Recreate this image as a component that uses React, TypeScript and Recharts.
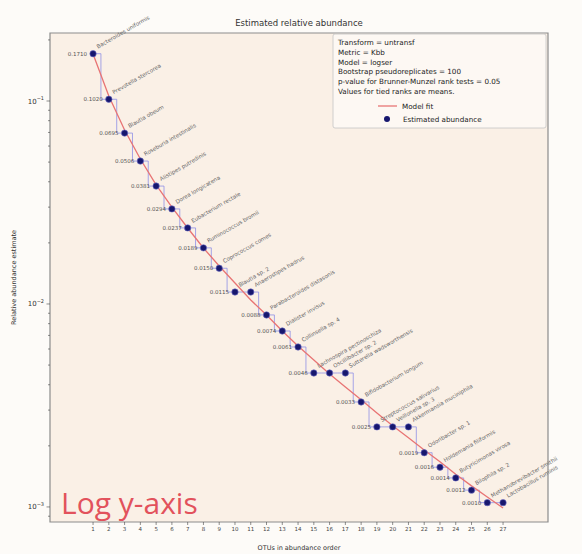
import React from 'react';
import {
  ComposedChart,
  Line,
  XAxis,
  YAxis,
  CartesianGrid,
  ReferenceArea,
  LabelList,
} from 'recharts';

// OTU rank, estimated relative abundance and fitted model value per rank
const ranks = [1, 2, 3, 4, 5, 6, 7, 8, 9, 10, 11, 12, 13, 14, 15, 16, 17, 18, 19, 20, 21, 22, 23, 24, 25, 26, 27];
const abundance = [
  0.171, 0.102, 0.0695, 0.0506, 0.0381, 0.0294, 0.0237, 0.0189, 0.015, 0.01145, 0.01145,
  0.00883, 0.00736, 0.00614, 0.00457, 0.00457, 0.00457, 0.00329, 0.00248, 0.00248, 0.00248,
  0.00185, 0.00157, 0.00139, 0.00121, 0.00105, 0.00105,
];
const modelFit = [
  0.1703, 0.1058, 0.072, 0.0518, 0.0386, 0.03, 0.02368, 0.01887, 0.01539, 0.01269, 0.01046,
  0.00883, 0.00736, 0.00621, 0.0053, 0.00452, 0.0039, 0.00337, 0.0029, 0.00251, 0.00219,
  0.00191, 0.00167, 0.00145, 0.00127, 0.00112, 0.000989,
];
const taxa = [
  'Bacteroides uniformis', 'Prevotella stercorea', 'Blautia obeum', 'Roseburia intestinalis',
  'Alistipes putredinis', 'Dorea longicatena', 'Eubacterium rectale', 'Ruminococcus bromii',
  'Coprococcus comes', 'Blautia sp. 2', 'Anaerostipes hadrus', 'Parabacteroides distasonis',
  'Dialister invisus', 'Collinsella sp. 4', 'Lachnospira pectinoschiza', 'Oscillibacter sp. 2',
  'Sutterella wadsworthensis', 'Bifidobacterium longum', 'Streptococcus salivarius',
  'Veillonella sp. 3', 'Akkermansia muciniphila', 'Odoribacter sp. 1', 'Holdemania filiformis',
  'Butyricimonas virosa', 'Bilophila sp. 2', 'Methanobrevibacter smithii', 'Lactobacillus ruminis',
];

const yMajorTicks = [0.001, 0.01, 0.1];
const yMinorTicks = [
  0.0009, 0.002, 0.003, 0.004, 0.005, 0.006, 0.007, 0.008, 0.009,
  0.02, 0.03, 0.04, 0.05, 0.06, 0.07, 0.08, 0.09, 0.2,
];
const legendNotes = [
  'Transform = untransf',
  'Metric = Kbb',
  'Model = logser',
  'Bootstrap pseudoreplicates = 100',
  'p-value for Brunner-Munzel rank tests = 0.05',
  'Values for tied ranks are means.',
];

const X_DOMAIN: [number, number] = [-1.73, 29.85];
const Y_DOMAIN: [number, number] = [0.000843, 0.2163];

const FONT = 'DejaVu Sans, sans-serif';

const data = ranks.map((rank, i) => ({
  rank,
  abundance: abundance[i],
  fit: modelFit[i],
  taxon: taxa[i],
}));

function LogTick(props: any) {
  const { x, y, payload } = props;
  const v = payload.value as number;
  const major = yMajorTicks.includes(v);
  const exp = Math.round(Math.log10(v));
  return (
    <g>
      <line x1={x} x2={x - (major ? 3.5 : 2)} y1={y} y2={y} stroke="#444" strokeWidth={0.6} />
      {major && (
        <text x={x - 6} y={y + 2.5} textAnchor="end" fontSize={7} fill="#333" fontFamily={FONT}>
          10
          <tspan dy={-3.5} fontSize={5}>{`\u2212${-exp}`}</tspan>
        </text>
      )}
    </g>
  );
}

function TaxonLabel(props: any) {
  const { x, y, value } = props;
  const tx = x + 5;
  const ty = y - 5;
  return (
    <text
      x={tx}
      y={ty}
      transform={`rotate(-30, ${tx}, ${ty})`}
      fontSize={5.5}
      fill="#666"
      fontFamily={FONT}
    >
      {value}
    </text>
  );
}

// only the first point of a tied group gets its value printed
function ValueLabel(props: any) {
  const { x, y, value, index } = props;
  if (index > 0 && abundance[index - 1] === abundance[index]) return null;
  return (
    <text x={x - 6} y={y + 2} textAnchor="end" fontSize={5.5} fill="#555" fontFamily={FONT}>
      {Number(value).toFixed(4)}
    </text>
  );
}

export default function App() {
  return (
    <div style={{ position: 'relative', width: 582, height: 554, background: '#fdfbf8' }}>
      <style>{'body{margin:0}'}</style>
      <ComposedChart
        width={582}
        height={554}
        data={data}
        margin={{ top: 33, right: 34, bottom: 0, left: 0 }}
      >
        <CartesianGrid fill="#faf0e6" horizontal={false} vertical={false} />
        <XAxis
          type="number"
          dataKey="rank"
          domain={X_DOMAIN}
          allowDataOverflow
          ticks={ranks}
          interval={0}
          height={32}
          axisLine={false}
          tickSize={3}
          tickMargin={2}
          tickLine={{ stroke: '#444', strokeWidth: 0.6 }}
          tick={{ fontSize: 5.5, fill: '#444', fontFamily: FONT }}
          label={{
            value: 'OTUs in abundance order',
            position: 'insideBottom',
            offset: 4,
            fontSize: 6.5,
            fill: '#333',
            fontFamily: FONT,
          }}
        />
        <YAxis
          type="number"
          scale="log"
          domain={Y_DOMAIN}
          allowDataOverflow
          ticks={[...yMajorTicks, ...yMinorTicks]}
          interval={0}
          width={50}
          axisLine={false}
          tickLine={false}
          tickSize={0}
          tickMargin={0}
          tick={<LogTick />}
          label={{
            content: (p: any) => {
              const vb = p.viewBox;
              const cy = vb.y + vb.height / 2;
              return (
                <text
                  x={16}
                  y={cy}
                  transform={`rotate(-90, 16, ${cy})`}
                  textAnchor="middle"
                  fontSize={6.5}
                  fill="#333"
                  fontFamily={FONT}
                >
                  Relative abundance estimate
                </text>
              );
            },
          }}
        />
        <ReferenceArea
          x1={X_DOMAIN[0]}
          x2={X_DOMAIN[1]}
          y1={Y_DOMAIN[0]}
          y2={Y_DOMAIN[1]}
          fill="none"
          stroke="#8c8c8c"
          strokeWidth={1.2}
          ifOverflow="visible"
        />
        <Line
          dataKey="abundance"
          type="step"
          stroke="#8f8fe6"
          strokeWidth={0.8}
          dot={false}
          isAnimationActive={false}
        />
        <Line
          dataKey="fit"
          type="linear"
          stroke="#e87474"
          strokeWidth={1.3}
          dot={false}
          isAnimationActive={false}
        />
        <Line
          dataKey="abundance"
          stroke="none"
          dot={{ r: 3.2, fill: '#17176e', stroke: '#6f6fc8', strokeWidth: 0.6 }}
          isAnimationActive={false}
        >
          <LabelList dataKey="taxon" content={<TaxonLabel />} />
          <LabelList dataKey="abundance" content={<ValueLabel />} />
        </Line>
      </ComposedChart>

      <svg
        width={582}
        height={554}
        style={{ position: 'absolute', left: 0, top: 0, pointerEvents: 'none' }}
        fontFamily={FONT}
      >
        <text x={299} y={26} textAnchor="middle" fontSize={8.5} fill="#333">
          Estimated relative abundance
        </text>

        <rect x={333} y={34} width={213} height={94} rx={2} fill="#fdf9f5" fillOpacity={0.85} stroke="#c4c4c4" strokeWidth={0.8} />
        {legendNotes.map((line, i) => (
          <text key={line} x={338} y={45 + i * 9.8} fontSize={7.2} fill="#222">
            {line}
          </text>
        ))}
        <line x1={378} x2={397} y1={106} y2={106} stroke="#e87474" strokeWidth={1.3} />
        <text x={402} y={108.5} fontSize={7.2} fill="#222">Model fit</text>
        <circle cx={387} cy={119} r={3} fill="#17176e" />
        <text x={403} y={121.5} fontSize={7.2} fill="#222">Estimated abundance</text>

        <text x={61} y={514} fontSize={30} fill="#e2525c" fontFamily="Open Sans, sans-serif">
          Log y-axis
        </text>
      </svg>
    </div>
  );
}
